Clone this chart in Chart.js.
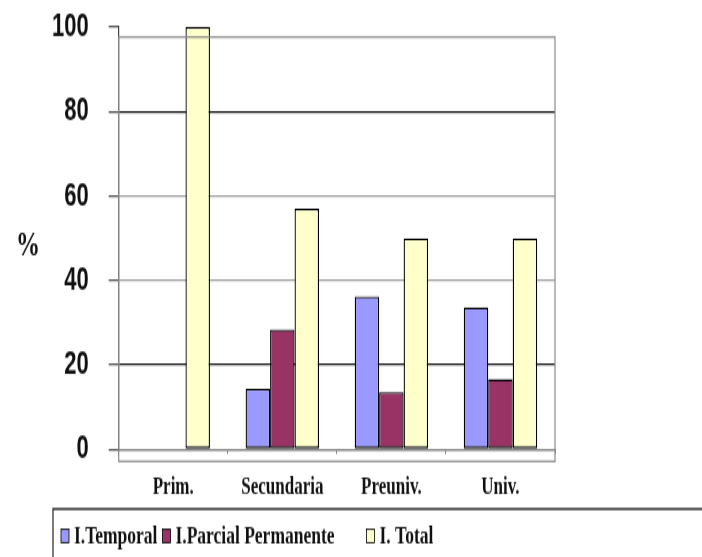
<!DOCTYPE html>
<html>
<head>
<meta charset="utf-8">
<script src="https://cdn.jsdelivr.net/npm/chart.js@4"></script>
<style>
  html { overflow: hidden; }
  html, body { margin: 0; padding: 0; background: #fff; }
  body { height: 557px; }
  #wrap { width: 702px; height: 371px; transform: scaleY(1.5013); transform-origin: 0 0; }
  canvas { display: block; }
</style>
</head>
<body>
<div id="wrap"><canvas id="c" width="702" height="371"></canvas></div>
<script>
const categories = ['Prim.', 'Secundaria', 'Preuniv.', 'Univ.'];
const seriesNames = ['I.Temporal', 'I.Parcial Permanente', 'I. Total'];
const temporal = [0, 14.3, 36.2, 33.6];
const parcial = [0, 28.4, 13.5, 16.6];
const total = [100, 57, 50, 50];
const yMin = 0, yMax = 100, yStep = 20;
const axisTitle = '%';

const colors = ['#9999FF', '#993366', '#FFFFCC'];

const frame = {
  id: 'frame',
  afterDraw(chart) {
    const ctx = chart.ctx, a = chart.chartArea;
    ctx.save();
    // plot box
    ctx.strokeStyle = '#8a8a8a';
    ctx.lineWidth = 1.2;
    ctx.strokeRect(a.left, a.top + 6.7, a.right - a.left, a.bottom + 8 - (a.top + 6.7));
    // % label
    ctx.fillStyle = '#111';
    ctx.font = 'bold 24px "Liberation Serif", "Times New Roman", serif';
    ctx.textAlign = 'center';
    ctx.textBaseline = 'middle';
    ctx.fillText(axisTitle, 28, (a.top + a.bottom) / 2 + 5);
    // legend
    const lx = 53, ly = 339;
    ctx.strokeStyle = '#333';
    ctx.lineWidth = 1.3;
    ctx.beginPath();
    ctx.moveTo(lx, chart.height + 2);
    ctx.lineTo(lx, ly);
    ctx.lineTo(chart.width + 2, ly);
    ctx.stroke();
    ctx.font = 'bold 17.5px "Liberation Serif", "Times New Roman", serif';
    ctx.textAlign = 'left';
    const gaps = [5, 32, 0];
    let x = 61;
    const cy = 357;
    chart.data.datasets.forEach((ds, i) => {
      ctx.fillStyle = ds.backgroundColor;
      ctx.fillRect(x, cy - 4.5, 8, 9);
      ctx.strokeStyle = '#000';
      ctx.lineWidth = 0.8;
      ctx.strokeRect(x, cy - 4.5, 8, 9);
      x += 13;
      ctx.fillStyle = '#111';
      ctx.fillText(ds.label, x, cy);
      x += ctx.measureText(ds.label).width + gaps[i];
    });
    ctx.restore();
  }
};

const gridColor = (c) => {
  const v = c.tick && c.tick.value;
  if (v === 100) return 'rgba(0,0,0,0)';
  if (v === 80 || v === 20) return '#1a1a1a';
  if (v === 0) return '#888';
  return '#a0a0a0';
};

new Chart(document.getElementById('c'), {
  type: 'bar',
  data: {
    labels: categories,
    datasets: [
      { label: seriesNames[0], data: temporal, backgroundColor: colors[0] },
      { label: seriesNames[1], data: parcial, backgroundColor: colors[1] },
      { label: seriesNames[2], data: total, backgroundColor: colors[2] }
    ].map(d => Object.assign(d, { borderColor: '#000', borderWidth: 1.3, borderSkipped: false, categoryPercentage: 0.673, barPercentage: 1.0 }))
  },
  options: {
    responsive: false,
    animation: false,
    devicePixelRatio: 1,
    layout: { padding: { left: 32, right: 147, top: 18, bottom: 24.3 } },
    plugins: { legend: { display: false }, tooltip: { enabled: false } },
    scales: {
      x: {
        grid: { drawOnChartArea: false, tickLength: 3, color: '#777', offset: true },
        border: { display: true, color: '#888', width: 1.3 },
        ticks: {
          color: '#111',
          padding: 12,
          font: { family: '"Liberation Serif", "Times New Roman", serif', weight: 'bold', size: 17 }
        }
      },
      y: {
        min: yMin, max: yMax,
        afterFit: (s) => { s.paddingTop = 0; s.paddingBottom = 0; },
        grid: { color: gridColor, lineWidth: 1.3, tickLength: 10, tickColor: '#555' },
        border: { display: true, color: '#444', width: 1.2 },
        ticks: {
          stepSize: yStep,
          color: '#111',
          padding: 20,
          font: { family: '"Liberation Sans", Arial, sans-serif', weight: 'bold', size: 22 }
        }
      }
    }
  },
  plugins: [frame]
});
</script>
</body>
</html>
